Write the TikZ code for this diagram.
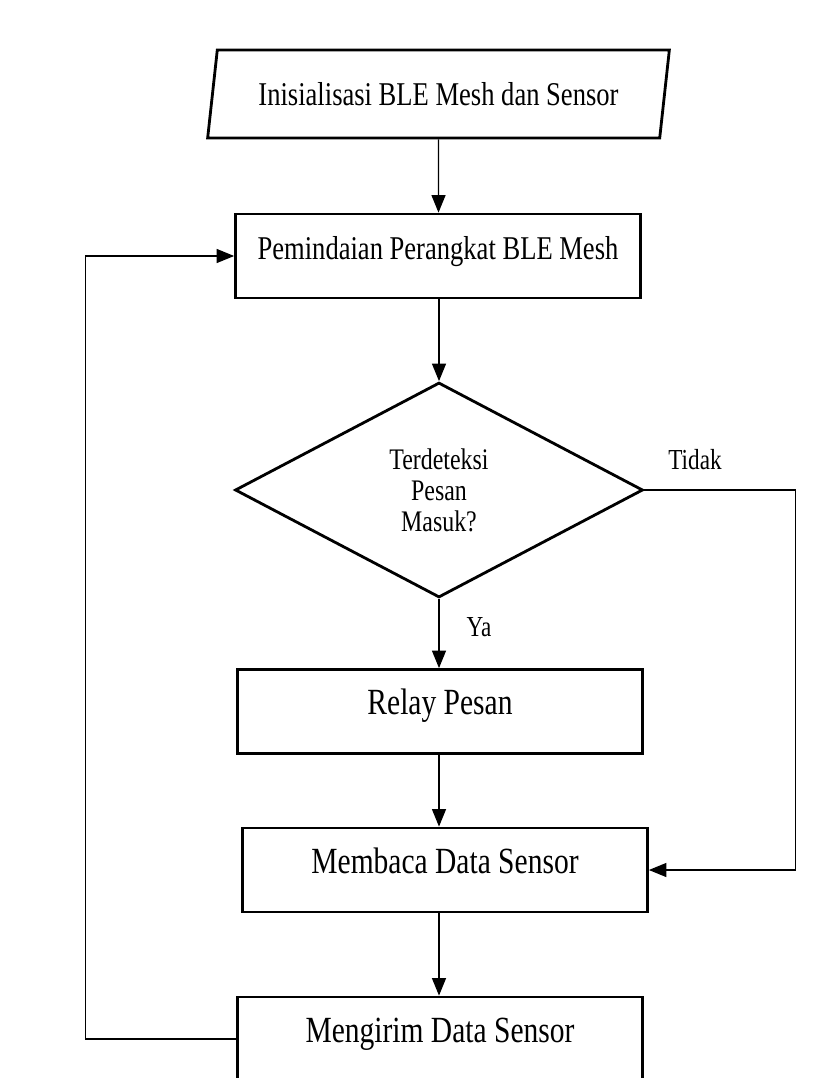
\documentclass[tikz,border=0pt]{standalone}
\usepackage{fontspec}
\setmainfont{Liberation Serif}[FakeStretch=0.8]
\usepackage{tikz}
\usetikzlibrary{shapes.geometric,arrows.meta}

\tikzset{
  box/.style={draw, line width=1.6pt, rectangle, minimum width=8.1cm, minimum height=1.68cm,
    text height=0.55cm, text depth=0.43cm, font=\fontsize{21}{24}\selectfont},
  io/.style={draw, line width=1.6pt, trapezium, trapezium left angle=77, trapezium right angle=103,
    trapezium stretches=true, minimum width=9.26cm, minimum height=1.76cm,
    font=\fontsize{18.9}{22}\selectfont},
  decision/.style={draw, line width=1.6pt, diamond, aspect=1.9, minimum width=8.16cm, minimum height=4.3cm,
    align=center, font=\fontsize{17}{17.6}\selectfont},
  line/.style={line width=0.7pt, -{Triangle[length=10pt,width=8pt]}},
  lbl/.style={font=\fontsize{16.5}{18}\selectfont}
}

\begin{document}
\begin{tikzpicture}[x=0.02cm, y=-0.02cm]
	\clip (0,0) rectangle (823,1078);
	\fill[white] (0,0) rectangle (823,1078);
	% langkah-langkah
	\node[io] (init) at (438.5,94) {Inisialisasi BLE Mesh dan Sensor};
	\node[box, font=\fontsize{18.9}{22}\selectfont] (scan) at (438,256) {Pemindaian Perangkat BLE Mesh};
	\node[decision] (cek) at (439,490) {Terdeteksi\\Pesan\\Masuk?};
	\node[box] (relay) at (440,711.5) {Relay Pesan};
	\node[box] (baca) at (445,870) {Membaca Data Sensor};
	\node[box] (kirim) at (440,1039) {Mengirim Data Sensor};
	% label cabang
	\node[lbl] (tidak) at (695,460) {Tidak};
	\node[lbl] (ya) at (479,627) {Ya};
	% panah
	\draw[line] (init) -- (init |- scan.north);
	\draw[line] (scan.south -| cek.north) -- (cek);
	\draw[line] (cek.south) -- (cek.south |- relay.north);
	\draw[line] (relay.south -| cek.south) -- (cek.south |- baca.north);
	\draw[line] (baca.south -| cek.south) -- (cek.south |- kirim.north);
	\draw[line] (cek.east) -- ++(151,0) |- (baca.east);
	\draw[line] (kirim.west) -- ++(-151,0) |- (scan.west);
\end{tikzpicture}
\end{document}
